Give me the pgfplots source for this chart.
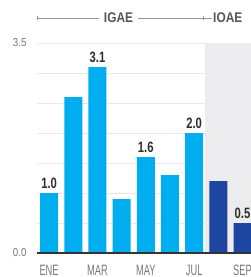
\documentclass[border=0pt]{standalone}
\usepackage{fontspec}
\setmainfont{Liberation Sans}
\newfontfamily\cond[FakeStretch=0.75]{Liberation Sans}
\newfontfamily\xcond[FakeStretch=0.62]{Liberation Sans}
\newfontfamily\semi[FakeStretch=0.85]{Liberation Sans}
\usepackage{pgfplots}
\pgfplotsset{compat=1.18}
\definecolor{cyanbar}{RGB}{0,174,239}
\definecolor{darkbar}{RGB}{28,70,160}
\definecolor{bggray}{RGB}{236,236,239}
\definecolor{gridgray}{RGB}{232,232,232}
\definecolor{ticktext}{RGB}{120,120,120}
\definecolor{valtext}{RGB}{45,45,45}
\definecolor{headtext}{RGB}{85,85,85}
\definecolor{headline}{RGB}{150,150,150}
\begin{document}
\begin{tikzpicture}
\path[use as bounding box] (0,0) rectangle (251pt,277pt);
\begin{axis}[
  at={(37pt,24pt)}, anchor=south west,
  scale only axis, width=214pt, height=210pt,
  xmin=-0.5, xmax=8.35, ymin=0, ymax=3.5,
  enlargelimits=false,
  axis line style={draw=none},
  major tick length=0pt, minor tick length=0pt,
  xtick={0,2,4,6,8},
  xticklabels={ENE,MAR,MAY,JUL,SEP},
  xticklabel style={font=\xcond\fontsize{15}{15}\selectfont, text=ticktext, anchor=base, yshift=-22pt},
  ytick={0,3.5},
  yticklabels={0.0,3.5},
  minor ytick={0.5,1,1.5,2,2.5,3},
  yticklabel style={font=\semi\fontsize{11.5}{11.5}\selectfont, text=ticktext, anchor=east, xshift=-7pt},
  /pgf/number format/assume math mode=true,
  ymajorgrids, yminorgrids,
  major grid style={gridgray, line width=0.8pt},
  minor grid style={gridgray, line width=0.8pt},
  ybar, bar width=18pt, bar shift=0pt,
  point meta=explicit symbolic,
  nodes near coords,
  every node near coord/.append style={font=\cond\bfseries\fontsize{15}{15}\selectfont, text=valtext, anchor=base, yshift=5pt},
]
\fill[bggray] (axis cs:6.45,0) rectangle (axis cs:8.35,3.5);
\addplot[fill=cyanbar, draw=none] coordinates {
  (0,1.0) [1.0]
  (1,2.6) []
  (2,3.1) [3.1]
  (3,0.9) []
  (4,1.6) [1.6]
  (5,1.3) []
  (6,2.0) [2.0]
};
\addplot[fill=darkbar, draw=none] coordinates {
  (7,1.2) []
  (8,0.5) [0.5]
};
\draw[black!80, line width=1.3pt] (axis cs:-0.5,0) -- (axis cs:8.35,0);
\end{axis}
% header
\draw[headline, line width=0.7pt] (37pt,259pt) -- (99pt,259pt);
\draw[headline, line width=0.7pt] (138pt,259pt) -- (212pt,259pt);
\draw[headline, line width=0.7pt] (37pt,257pt) -- (37pt,261pt);
\draw[headline, line width=0.7pt] (203pt,257pt) -- (203pt,261pt);
\node[font=\semi\bfseries\fontsize{14}{14}\selectfont, text=headtext, anchor=center, inner sep=0pt] at (118.5pt,259pt) {IGAE};
\node[font=\semi\bfseries\fontsize{14}{14}\selectfont, text=headtext, anchor=west, inner sep=0pt] at (213pt,259pt) {IOAE};
\end{tikzpicture}
\end{document}
